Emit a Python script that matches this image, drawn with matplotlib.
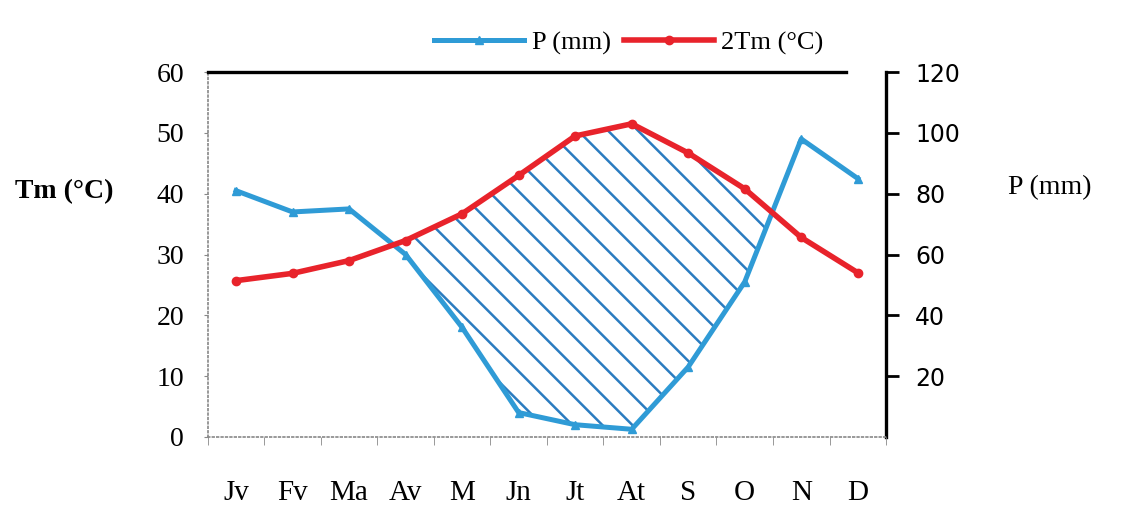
import numpy as np
import matplotlib

matplotlib.use("Agg")
import matplotlib.pyplot as plt

BLUE, RED, HATCH = "#2f9bd6", "#e8232b", "#2b7cc0"
SERIF = ["Liberation Serif", "DejaVu Serif"]

months = ["Jv", "Fv", "Ma", "Av", "M", "Jn", "Jt", "At", "S", "O", "N", "D"]
precip_mm = [81, 74, 75, 60, 36, 8, 4, 2.5, 23, 51, 98, 85]
tm_c = [25.7, 26.9, 29.0, 32.3, 36.7, 43.0, 49.5, 51.5, 46.7, 40.8, 32.8, 27.0]
tm_ticks = [0, 10, 20, 30, 40, 50, 60]
p_ticks = [20, 40, 60, 80, 100, 120]

fig = plt.figure(figsize=(11.23, 5.08), dpi=100)
ax = fig.add_axes([0.185, 0.140, 0.604, 0.718])
ax2 = ax.twinx()

x = np.arange(len(months))
ax.set_xlim(-0.5, len(months) - 0.5)
ax.set_ylim(0, 60)
ax2.set_ylim(0, 120)

(lp,) = ax2.plot(x, precip_mm, color=BLUE, lw=3.6, marker="^", ms=6, label="P (mm)", zorder=3)
(lt,) = ax.plot(x, tm_c, color=RED, lw=4, marker="o", ms=6, label="2Tm (°C)", zorder=3)
ax.set_zorder(ax2.get_zorder() + 1)
ax.patch.set_visible(False)

# dry period: precipitation below 2Tm, hatched with sparse diagonal lines
two_tm = 2 * np.array(tm_c)
p = np.array(precip_mm)
poly = ax2.fill_between(x, p, two_tm, where=p < two_tm, interpolate=True,
                        facecolor="none", edgecolor="none")
clip = max(poly.get_paths(), key=lambda pa: len(pa.vertices))
W, H = ax2.bbox.width, ax2.bbox.height
for x0 in np.arange(-1.0, 1.2, 30 / W):
    (ln,) = ax2.plot([x0, x0 + H / W], [1, 0], transform=ax2.transAxes,
                     color=HATCH, lw=1.8, zorder=2)
    ln.set_clip_path(clip, ax2.transData)

# spines
for s in ("left", "bottom"):
    ax.spines[s].set_linestyle(":")
    ax.spines[s].set_color("#888888")
    ax.spines[s].set_linewidth(1.2)
ax.spines["right"].set_visible(False)
ax.spines["top"].set_linewidth(2.4)
ax.spines["top"].set_bounds(-0.5, 10.8)
for s in ("left", "top", "bottom"):
    ax2.spines[s].set_visible(False)
ax2.spines["right"].set_linewidth(2.4)

# ticks
ax.set_yticks(tm_ticks)
ax.set_yticklabels([str(t) for t in tm_ticks], fontfamily=SERIF, fontsize=20)
ax.tick_params(axis="y", length=3, color="#888888", pad=14)
ax.set_xticks(x)
ax.set_xticklabels(months, fontfamily=SERIF, fontsize=21)
ax.set_xticks(np.arange(-0.5, len(months)), minor=True)
ax.tick_params(axis="x", which="major", length=0, pad=31)
ax.tick_params(axis="x", which="minor", length=6, color="#888888")

ax2.set_yticks(p_ticks)
ax2.set_yticklabels([str(t) for t in p_ticks], fontfamily="DejaVu Sans", fontsize=17)
ax2.tick_params(axis="y", length=9, width=2, pad=12)

fig.text(0.013, 1 - 192 / 508, "Tm (°C)", fontfamily=SERIF, fontsize=20,
         fontweight="bold", va="center")
fig.text(0.898, 1 - 188 / 508, "P (mm)", fontfamily=SERIF, fontsize=20, va="center")

fig.legend(handles=[lp, lt], loc="center", bbox_to_anchor=(0.56, 1 - 43 / 508),
           ncol=2, frameon=False, prop={"family": SERIF, "size": 19},
           handlelength=3.4, handletextpad=0.3, columnspacing=0.5)

fig.savefig("out.png", dpi=100)
